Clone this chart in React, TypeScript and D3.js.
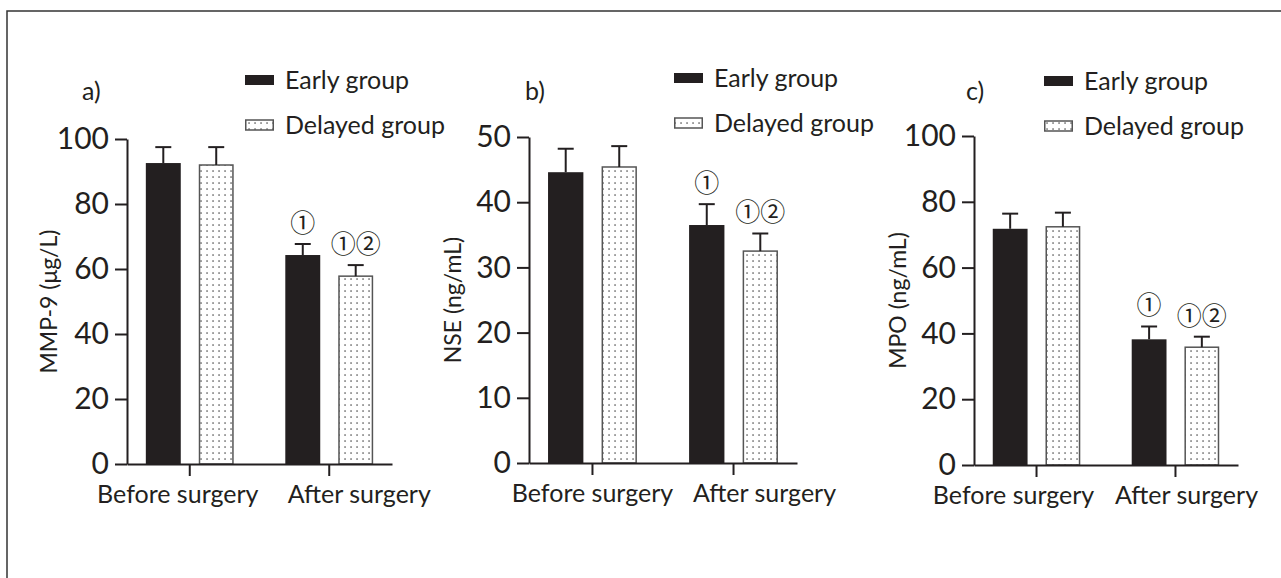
import React, { useRef, useEffect } from 'react';
import * as d3 from 'd3';

// categories and groups
const categories = ['Before surgery', 'After surgery'];
const groups = ['Early group', 'Delayed group'];

// a) MMP-9 (μg/L)
const mmpEarly = [92.6, 64.3];
const mmpEarlySd = [4.9, 3.4];
const mmpDelayed = [92.0, 57.8];
const mmpDelayedSd = [5.5, 3.4];

// b) NSE (ng/mL)
const nseEarly = [44.6, 36.5];
const nseEarlySd = [3.6, 3.2];
const nseDelayed = [45.4, 32.5];
const nseDelayedSd = [3.2, 2.7];

// c) MPO (ng/mL)
const mpoEarly = [71.8, 38.2];
const mpoEarlySd = [4.6, 3.9];
const mpoDelayed = [72.4, 35.8];
const mpoDelayedSd = [4.3, 3.2];

// significance marks
const earlyMarks = ['', '①'];
const delayedMarks = ['', '①②'];

const ticks100 = [0, 20, 40, 60, 80, 100];
const ticks50 = [0, 10, 20, 30, 40, 50];

const panels = [
  { label: 'a)', yTitle: 'MMP-9 (μg/L)', yMax: 100, ticks: ticks100,
    series: [[mmpEarly, mmpEarlySd, earlyMarks], [mmpDelayed, mmpDelayedSd, delayedMarks]] },
  { label: 'b)', yTitle: 'NSE (ng/mL)', yMax: 50, ticks: ticks50,
    series: [[nseEarly, nseEarlySd, earlyMarks], [nseDelayed, nseDelayedSd, delayedMarks]] },
  { label: 'c)', yTitle: 'MPO (ng/mL)', yMax: 100, ticks: ticks100,
    series: [[mpoEarly, mpoEarlySd, earlyMarks], [mpoDelayed, mpoDelayedSd, delayedMarks]] },
];

// layout (pixels)
const layout = [
  { x0: 127, x1: 392, yTop: 139, yBottom: 464, legendX: 245, legendY: 75, labelX: 82, titleX: 48, catShift: [-12, 30] },
  { x0: 529, x1: 797, yTop: 137, yBottom: 463, legendX: 674, legendY: 73, labelX: 525, titleX: 452, catShift: [0, 31] },
  { x0: 974, x1: 1238, yTop: 136, yBottom: 465, legendX: 1044, legendY: 76, labelX: 966, titleX: 897, catShift: [-23, 11] },
];

const ink = '#231f20';
const font = 'Lato, "Open Sans", sans-serif';

const plot = (svgRef) => {
  const svg = d3.select(svgRef.current);
  svg.selectAll('*').remove();

  const defs = svg.append('defs');
  const pat = defs.append('pattern')
    .attr('id', 'dots')
    .attr('patternUnits', 'userSpaceOnUse')
    .attr('width', 6)
    .attr('height', 6);
  pat.append('rect').attr('width', 6).attr('height', 6).attr('fill', '#fff');
  pat.append('rect').attr('x', 2.3).attr('y', 2.3).attr('width', 1.5).attr('height', 1.5).attr('fill', '#666');

  // frame
  svg.append('path')
    .attr('d', 'M7,578 V11 H1281')
    .attr('fill', 'none')
    .attr('stroke', '#333')
    .attr('stroke-width', 1.5);

  panels.forEach((p, i) => {
    const L = layout[i];
    const g = svg.append('g');

    const x = d3.scaleBand().domain(categories).range([L.x0, L.x1])
      .paddingInner(0.37).paddingOuter(0.135);
    const xg = d3.scaleBand().domain(groups).range([0, x.bandwidth()])
      .paddingInner(0.34);
    const y = d3.scaleLinear().domain([0, p.yMax]).range([L.yBottom, L.yTop]);

    // bars
    p.series.forEach(([vals, sd, marks], si) => {
      const isEarly = si === 0;
      categories.forEach((c, ci) => {
        const bx = x(c) + xg(groups[si]);
        const bw = xg.bandwidth();
        const top = y(vals[ci]);
        g.append('rect')
          .attr('x', isEarly ? bx : bx + 0.75)
          .attr('y', top)
          .attr('width', isEarly ? bw : bw - 1.5)
          .attr('height', y(0) - top)
          .attr('fill', isEarly ? ink : 'url(#dots)')
          .attr('stroke', isEarly ? 'none' : '#555')
          .attr('stroke-width', 1.5);

        const cx = bx + bw / 2;
        const et = y(vals[ci] + sd[ci]);
        g.append('line')
          .attr('x1', cx).attr('x2', cx)
          .attr('y1', top).attr('y2', et)
          .attr('stroke', ink).attr('stroke-width', 2);
        g.append('line')
          .attr('x1', cx - 8).attr('x2', cx + 8)
          .attr('y1', et).attr('y2', et)
          .attr('stroke', ink).attr('stroke-width', 2);

        if (marks[ci]) {
          g.append('text')
            .attr('x', cx)
            .attr('y', et - 23)
            .attr('text-anchor', 'middle')
            .attr('dominant-baseline', 'central')
            .attr('font-family', '"Noto Sans CJK JP", "DejaVu Sans", sans-serif')
            .attr('font-size', 25)
            .attr('fill', ink)
            .text(marks[ci]);
        }
      });
    });

    // y axis
    const yAxis = d3.axisLeft(y).tickValues(p.ticks).tickSize(12).tickSizeOuter(0).tickPadding(6);
    const ya = g.append('g')
      .attr('transform', `translate(${L.x0},0)`)
      .call(yAxis);
    ya.selectAll('path, line').attr('stroke', ink).attr('stroke-width', 2);
    ya.selectAll('text')
      .attr('font-family', font)
      .attr('font-size', 30)
      .attr('fill', ink);

    // x axis
    const xAxis = d3.axisBottom(x).tickSize(12).tickSizeOuter(0);
    const xa = g.append('g')
      .attr('transform', `translate(0,${L.yBottom})`)
      .call(xAxis);
    xa.selectAll('path, line').attr('stroke', ink).attr('stroke-width', 2);
    xa.selectAll('text')
      .attr('font-family', font)
      .attr('font-size', 25)
      .attr('fill', ink)
      .attr('y', 39)
      .attr('dy', 0)
      .attr('dx', (d, k) => L.catShift[k]);

    // y title
    g.append('text')
      .attr('transform', `translate(${L.titleX},${(L.yTop + L.yBottom) / 2}) rotate(-90)`)
      .attr('text-anchor', 'middle')
      .attr('dominant-baseline', 'central')
      .attr('font-family', font)
      .attr('font-size', 23)
      .attr('fill', ink)
      .text(p.yTitle);

    // panel label
    g.append('text')
      .attr('x', L.labelX)
      .attr('y', 100)
      .attr('font-family', font)
      .attr('font-size', 25)
      .attr('fill', ink)
      .text(p.label);

    // legend
    groups.forEach((name, k) => {
      const ly = L.legendY + k * 45;
      g.append('rect')
        .attr('x', L.legendX + (k ? 0.75 : 0))
        .attr('y', ly)
        .attr('width', k ? 27.5 : 29)
        .attr('height', 10)
        .attr('fill', k ? 'url(#dots)' : ink)
        .attr('stroke', k ? '#555' : 'none')
        .attr('stroke-width', 1.5);
      g.append('text')
        .attr('x', L.legendX + 40)
        .attr('y', ly + 14)
        .attr('font-family', font)
        .attr('font-size', 25)
        .attr('fill', ink)
        .text(name);
    });
  });
};

export default function App() {
  const svgRef = useRef(null);

  useEffect(() => {
    plot(svgRef);
  }, []);

  return (
    <svg
      ref={svgRef}
      width={1281}
      height={578}
      style={{ position: 'absolute', left: 0, top: 0, background: '#fff' }}
    />
  );
}
